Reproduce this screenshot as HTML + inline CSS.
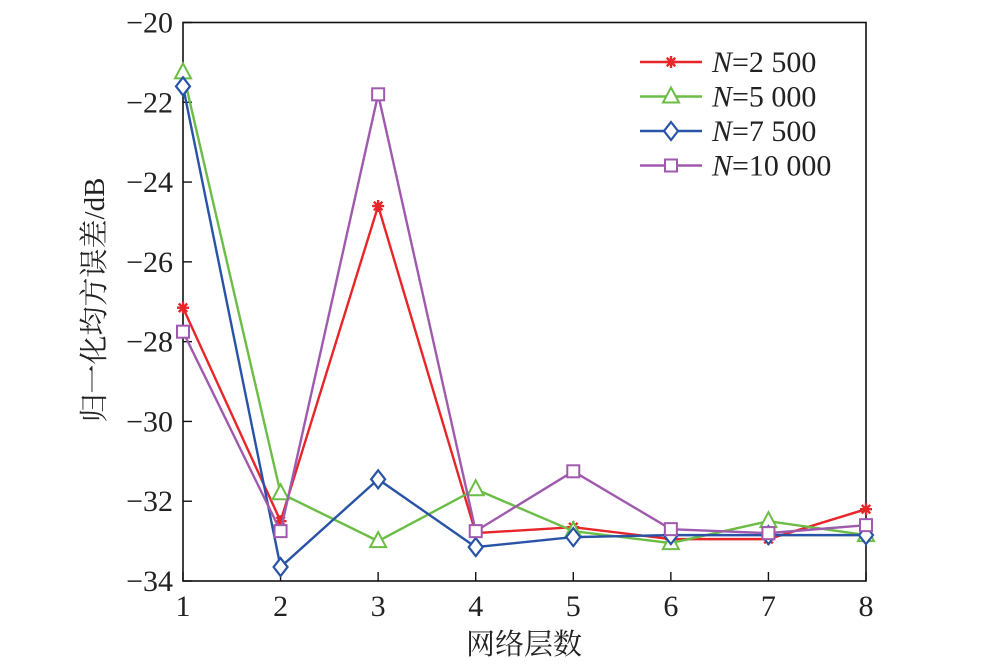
<!DOCTYPE html>
<html><head><meta charset="utf-8"><style>
html,body{margin:0;padding:0;background:#fff;width:1000px;height:665px;overflow:hidden}
svg text{font-family:"Liberation Serif","Noto Serif CJK SC",serif;fill:#222}
</style></head><body>
<svg id="chart" width="1000" height="665" xmlns="http://www.w3.org/2000/svg"></svg>
<script>
const categories=[1,2,3,4,5,6,7,8];
const yTicks=[-20,-22,-24,-26,-28,-30,-32,-34];
const seriesNames=["2 500","5 000","7 500","10 000"];
const sN2500=[-27.15,-32.5,-24.6,-32.8,-32.65,-32.95,-32.95,-32.2];
const sN5000=[-21.25,-31.8,-33.0,-31.7,-32.75,-33.05,-32.5,-32.85];
const sN7500=[-21.6,-33.65,-31.45,-33.15,-32.9,-32.85,-32.85,-32.85];
const sN10000=[-27.75,-32.75,-21.8,-32.75,-31.25,-32.7,-32.8,-32.6];

const svg=document.getElementById('chart');
const NS='http://www.w3.org/2000/svg';
const L=183,R=866,T=22.5,B=581;
const xS=v=>L+(v-1)*(R-L)/7;
const yS=v=>T+(-20-v)*(B-T)/14;
function mk(tag,attrs,parent){const e=document.createElementNS(NS,tag);for(const k in attrs)e.setAttribute(k,attrs[k]);(parent||svg).appendChild(e);return e;}

const frame=mk('rect',{x:L,y:T,width:R-L,height:B-T,fill:'none',stroke:'#111','stroke-width':1.6});



categories.forEach(c=>{
  const x=xS(c);
  const t=mk('line',{x1:x,x2:x,y1:B,y2:B-9,stroke:'#111','stroke-width':1.4});
  
  
  const l=mk('text',{x:x,y:B+35,'text-anchor':'middle','font-size':30});
  
  
  l.textContent=c;
});
yTicks.forEach(v=>{
  const y=yS(v);
  const t=mk('line',{x1:L,x2:L+9,y1:y,y2:y,stroke:'#111','stroke-width':1.4});
  
  
  const l=mk('text',{x:L-10,y:y+10,'text-anchor':'end','font-size':30});
  
  
  l.textContent='\u2212'+Math.abs(v);
});

const xt=mk('text',{x:524,y:654,'text-anchor':'middle','font-size':29});


xt.textContent='网络层数';
const yt=mk('text',{x:0,y:0,'text-anchor':'middle','font-size':29,transform:'translate(104,300) rotate(-90)'});


yt.textContent='归一化均方误差/dB';

function marker(g,type,x,y,color){
  if(type==='star'){
    for(let a=0;a<4;a++){const ang=a*Math.PI/4;const dx=6*Math.cos(ang),dy=6*Math.sin(ang);
      mk('line',{x1:x-dx,y1:y-dy,x2:x+dx,y2:y+dy,stroke:color,'stroke-width':2.4},g);}
  }else if(type==='tri'){
    mk('polygon',{points:`${x},${y-9} ${x-8},${y+6} ${x+8},${y+6}`,fill:'#fff',stroke:color,'stroke-width':2},g);
  }else if(type==='dia'){
    mk('polygon',{points:`${x},${y-9} ${x+7},${y} ${x},${y+9} ${x-7},${y}`,fill:'#fff',stroke:color,'stroke-width':2.2},g);
  }else{
    mk('rect',{x:x-6,y:y-6,width:12,height:12,fill:'#fff',stroke:color,'stroke-width':2},g);
  }
}
const series=[[sN2500,'#e8262a','star'],[sN5000,'#6cbd45','tri'],[sN7500,'#2853a6','dia'],[sN10000,'#a05aad','sq']];
series.forEach(([vals,color,m],i)=>{
  const g=mk('g',{});
  
  
  const p=mk('polyline',{points:vals.map((v,j)=>xS(categories[j])+','+yS(v)).join(' '),fill:'none',stroke:color,'stroke-width':2.4},g);
  
  
  vals.forEach((v,j)=>marker(g,m,xS(categories[j]),yS(v),color));
  const ly=62+i*34.5;
  const lg=mk('g',{});
  
  
  mk('line',{x1:640,x2:702,y1:ly,y2:ly,stroke:color,'stroke-width':2.4},lg);
  marker(lg,m,671,ly,color);
  const t=mk('text',{x:712,y:ly+10,'font-size':30},lg);
  const it=mk('tspan',{'font-style':'italic'},t);it.textContent='N';
  const rest=mk('tspan',{},t);rest.textContent='='+seriesNames[i];
});
</script>
</body></html>
